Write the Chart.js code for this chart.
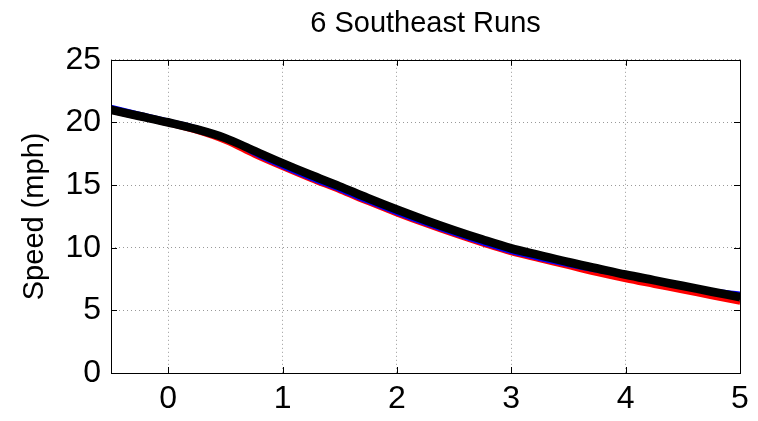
<!DOCTYPE html>
<html>
<head>
<meta charset="utf-8">
<script src="https://cdn.jsdelivr.net/npm/chart.js@4"></script>
<style>
  html, body { margin: 0; padding: 0; background: #fff; }
  #wrap { width: 758px; height: 421px; }
</style>
</head>
<body>
<div id="wrap"><canvas id="chart" width="758" height="421"></canvas></div>
<script>
// distance (x) and speed of each run
const distance = [-0.5, -0.25, 0, 0.25, 0.5, 0.75, 1, 1.25, 1.5, 1.75, 2, 2.25, 2.5, 2.75, 3, 3.25, 3.5, 3.75, 4, 4.25, 4.5, 4.75, 5];
const run1 = [21.15, 20.65, 20.15, 19.6, 18.9, 17.9, 16.9, 15.95, 15.05, 14.1, 13.2, 12.35, 11.55, 10.8, 10.1, 9.55, 9.0, 8.5, 8.0, 7.55, 7.1, 6.65, 6.2];
const run2 = [21.05, 20.55, 20.05, 19.5, 18.8, 17.8, 16.8, 15.85, 14.95, 14.0, 13.1, 12.25, 11.45, 10.7, 10.0, 9.45, 8.9, 8.4, 7.9, 7.45, 7.0, 6.55, 6.1];
const run3 = [20.95, 20.45, 19.95, 19.4, 18.7, 17.7, 16.7, 15.75, 14.85, 13.9, 13.0, 12.15, 11.35, 10.6, 9.9, 9.35, 8.8, 8.3, 7.8, 7.35, 6.9, 6.45, 6.0];
const run4 = [20.85, 20.35, 19.85, 19.3, 18.6, 17.6, 16.6, 15.65, 14.75, 13.8, 12.9, 12.05, 11.25, 10.5, 9.8, 9.25, 8.7, 8.2, 7.7, 7.25, 6.8, 6.35, 5.9];
const runBlue = [21.25, 20.7, 20.15, 19.6, 18.8, 17.5, 16.45, 15.5, 14.6, 13.65, 12.75, 11.9, 11.1, 10.35, 9.65, 9.1, 8.6, 8.15, 7.75, 7.4, 7.0, 6.6, 6.35];
const runRed = [20.85, 20.35, 19.85, 19.25, 18.45, 17.35, 16.35, 15.4, 14.5, 13.55, 12.65, 11.8, 11.0, 10.25, 9.55, 9.0, 8.45, 7.9, 7.4, 6.95, 6.5, 6.05, 5.6];

const xTicks = [0, 1, 2, 3, 4, 5];
const yTicks = [0, 5, 10, 15, 20, 25];

const FONT = "'Liberation Sans', Arial, Helvetica, sans-serif";

const toPoints = ys => ys.map((y, i) => ({ x: distance[i], y: y }));

const line = (ys, color, w) => ({
  data: toPoints(ys),
  borderColor: color,
  borderWidth: w,
  pointRadius: 0,
  fill: false,
  cubicInterpolationMode: 'monotone',
});

// box around the plot + inward tick marks, matlab style
const boxPlugin = {
  id: 'box',
  afterDatasetsDraw(chart) {
    const { ctx, chartArea: a, scales } = chart;
    ctx.save();
    ctx.strokeStyle = '#000';
    ctx.lineWidth = 1;
    ctx.beginPath();
    xTicks.forEach(v => {
      const px = Math.round(scales.x.getPixelForValue(v)) + 0.5;
      ctx.moveTo(px, a.bottom); ctx.lineTo(px, a.bottom - 6);
      ctx.moveTo(px, a.top); ctx.lineTo(px, a.top + 6);
    });
    yTicks.forEach(v => {
      const py = Math.round(scales.y.getPixelForValue(v)) + 0.5;
      ctx.moveTo(a.left, py); ctx.lineTo(a.left + 6, py);
      ctx.moveTo(a.right, py); ctx.lineTo(a.right - 6, py);
    });
    ctx.stroke();
    ctx.strokeRect(Math.round(a.left) + 0.5, Math.round(a.top) + 0.5,
      Math.round(a.right - a.left), Math.round(a.bottom - a.top));
    ctx.restore();
  }
};

new Chart(document.getElementById('chart'), {
  type: 'line',
  data: {
    datasets: [
      line(run1, '#000', 5),
      line(run2, '#000', 5),
      line(run3, '#000', 5),
      line(run4, '#000', 5),
      line(runBlue, '#0000ff', 4),
      line(runRed, '#ff0000', 4),
    ]
  },
  options: {
    responsive: false,
    animation: false,
    layout: { padding: { left: 0, right: 18, top: 0, bottom: 0 } },
    plugins: {
      legend: { display: false },
      tooltip: { enabled: false },
      title: {
        display: true,
        fullSize: false,
        text: '6 Southeast Runs',
        color: '#000',
        font: { family: FONT, size: 29, weight: 'normal' },
        padding: { top: 7, bottom: 18 },
      },
    },
    scales: {
      x: {
        type: 'linear',
        min: -0.5,
        max: 5,
        afterBuildTicks: s => { s.ticks = xTicks.map(v => ({ value: v })); },
        afterFit: s => { s.height = 48; },
        grid: { color: '#999', drawTicks: false },
        border: { display: false, dash: [1, 3] },
        ticks: { color: '#000', padding: 7, font: { family: FONT, size: 32 } },
      },
      y: {
        min: 0,
        max: 25,
        afterBuildTicks: s => { s.ticks = yTicks.map(v => ({ value: v })); },
        afterFit: s => { s.width = 111; },
        grid: { color: '#999', drawTicks: false },
        border: { display: false, dash: [1, 3] },
        ticks: { color: '#000', padding: 10, font: { family: FONT, size: 32 } },
        title: {
          display: true,
          text: 'Speed (mph)',
          color: '#000',
          font: { family: FONT, size: 29 },
          padding: { top: 18, bottom: 0 },
        },
      },
    },
  },
  plugins: [boxPlugin],
});
</script>
</body>
</html>
